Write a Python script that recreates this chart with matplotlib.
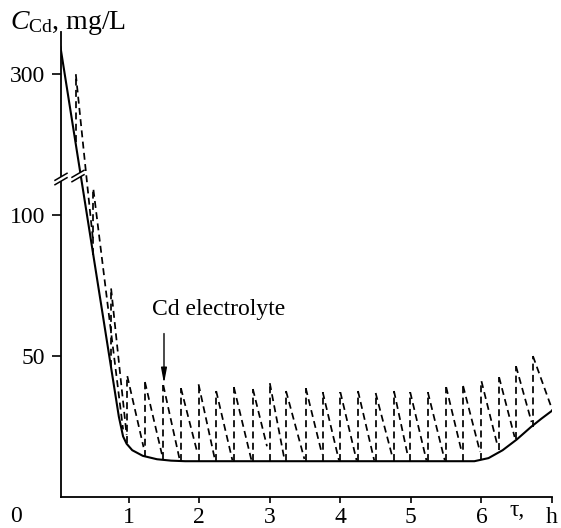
import numpy as np
import matplotlib
matplotlib.use("Agg")
import matplotlib.pyplot as plt
from matplotlib.lines import Line2D
from matplotlib.patches import Polygon

plt.rcParams['font.family'] = ['Liberation Serif', 'DejaVu Serif']
plt.rcParams['mathtext.fontset'] = 'custom'
plt.rcParams['mathtext.rm'] = 'Liberation Serif'
plt.rcParams['mathtext.it'] = 'Liberation Serif:italic'

# solid curve (mg/L vs h)
t_solid = [0.03, 0.86, 0.92, 0.97, 1.05, 1.2, 1.4, 1.6, 1.8, 5.9, 6.1, 6.3, 6.5, 6.7, 6.85, 7.01]
c_solid = [310, 28.5, 21.5, 18.9, 16.6, 14.6, 13.4, 12.9, 12.7, 12.7, 13.8, 16.6, 20.4, 24.8, 27.8, 30.8]

# dashed sawtooth: jump at each addition, then decay
t_add = [0.25, 0.5, 0.75, 0.98, 1.23, 1.49, 1.74, 1.99, 2.24, 2.49, 2.76, 3.0, 3.23,
         3.51, 3.75, 4.0, 4.25, 4.5, 4.76, 4.99, 5.24, 5.5, 5.74, 6.0, 6.25, 6.49, 6.73]
c_base = [276, 86, 46, 19, 14.3, 13.4, 12.8, 12.7, 12.7, 12.7, 12.7, 12.7, 12.7,
          12.7, 12.7, 12.7, 12.7, 12.7, 12.7, 12.7, 12.7, 12.7, 12.8, 13.2, 16.8, 20.5, 25.0]
c_peak = [300, 109, 74, 42.9, 40.8, 39.7, 38.6, 40.0, 37.6, 39.0, 38.3, 40.4, 37.6,
          38.6, 37.2, 37.2, 37.6, 36.9, 37.6, 37.2, 37.2, 39.0, 39.4, 41.1, 42.5, 46.4, 50.0]
t_end = [0.49, 0.92, 0.97, 1.21, 1.47, 1.72, 1.97, 2.22, 2.47, 2.74, 2.96, 3.21, 3.49,
         3.74, 3.98, 4.23, 4.48, 4.74, 4.96, 5.22, 5.48, 5.72, 5.98, 6.23, 6.47, 6.71, 7.01]
c_end = [92, 24, 22, 17.7, 15.2, 13.5, 16.0, 13.5, 13.0, 13.0, 18.0, 13.0, 13.5,
         15.2, 13.0, 13.0, 13.0, 14.0, 14.2, 13.0, 13.0, 16.0, 16.0, 18.0, 21.3, 26.6, 30.5]

# broken y axis: 112.8..263 squeezed out
LO = 112.8
EPS = 0.001
HI = LO + 150 / (1 - EPS)


def fwd(y):
    y = np.asarray(y, float)
    return np.where(y <= LO, y, np.where(y >= HI, y - (HI - LO) * (1 - EPS), LO + (y - LO) * EPS))


def inv(d):
    d = np.asarray(d, float)
    top = LO + (HI - LO) * EPS
    return np.where(d <= LO, d, np.where(d >= top, d + (HI - LO) * (1 - EPS), LO + (d - LO) / EPS))


fig = plt.figure(figsize=(5.61, 5.28), dpi=100)
ax = fig.add_axes([61 / 561, 31 / 528, 491 / 561, 465 / 528])
ax.set_yscale('function', functions=(fwd, inv))

ax.plot(t_solid, c_solid, color='black', lw=1.5, solid_capstyle='round')

dash = (0, (4, 2.5))
for i in range(len(t_add)):
    ax.plot([t_add[i], t_add[i]], [c_base[i], c_peak[i]], color='black', lw=1.25, ls=dash)
    ax.plot([t_add[i], t_end[i]], [c_peak[i], c_end[i]], color='black', lw=1.25, ls=dash)

ax.set_xlim(0.04, 7.0)
ax.set_ylim(0, 315)

ax.spines['top'].set_visible(False)
ax.spines['right'].set_visible(False)
for s in ('left', 'bottom'):
    ax.spines[s].set_linewidth(1.3)

ax.set_xticks([1, 2, 3, 4, 5, 6, 7])
ax.set_xticklabels(['1', '2', '3', '4', '5', '6', 'h'])
ax.set_yticks([50, 100, 300])
ax.set_yticklabels(['50', '100', '300'])
ax.yaxis.set_minor_locator(matplotlib.ticker.NullLocator())
ax.tick_params(axis='y', direction='out', length=6.5, width=1.2, pad=5, labelsize=17)
ax.tick_params(axis='x', direction='out', length=4, width=1.2, pad=3, labelsize=17)

fig.text((58.2 + 6.5 * 70.55) / 561, 1 - 511 / 528, 'τ,', ha='center', va='center', fontsize=17)
fig.text(16 / 561, 1 - 516 / 528, '0', ha='center', va='center', fontsize=17)
fig.text(10 / 561, 1 - 23 / 528, r'$C_{\mathrm{Cd}}$, mg/L', ha='left', va='center', fontsize=20)

ax.text(1.33, 66.7, 'Cd electrolyte', fontsize=17, ha='left', va='center')
ax.annotate('', xy=(1.5, 40.3), xytext=(1.5, 58.0),
            arrowprops=dict(arrowstyle='-|>,head_length=0.9,head_width=0.17', color='black',
                            lw=1.0, shrinkA=0, shrinkB=0))


def break_mark(cx, cy):
    # two parallel slanted strokes with a white gap between, pixel centre (cx, cy) from top-left
    W, H = 561.0, 528.0
    dx, dy, g = 6.0, 3.5, 2.2
    p1 = [(cx - dx, cy + dy - g), (cx + dx, cy - dy - g)]
    p2 = [(cx - dx, cy + dy + g), (cx + dx, cy - dy + g)]
    poly = [p1[0], p1[1], p2[1], p2[0]]
    f = lambda p: (p[0] / W, 1 - p[1] / H)
    fig.add_artist(Polygon([f(p) for p in poly], closed=True, facecolor='white',
                           edgecolor='none', transform=fig.transFigure, zorder=5))
    for p in (p1, p2):
        fig.add_artist(Line2D([f(p[0])[0], f(p[1])[0]], [f(p[0])[1], f(p[1])[1]],
                              color='black', lw=1.1, transform=fig.transFigure, zorder=6))


break_mark(61, 179)
break_mark(78, 176)

fig.savefig('out.png', dpi=100)
